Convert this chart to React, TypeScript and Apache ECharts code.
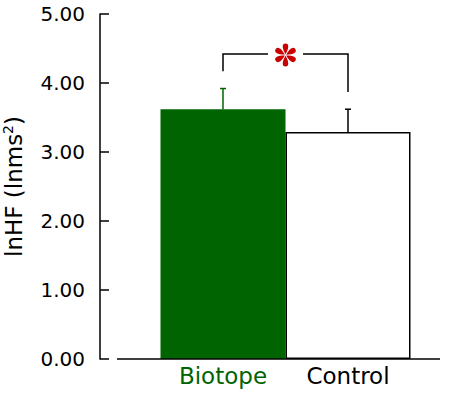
import React, { useEffect, useRef } from "react";
import * as echarts from "echarts";

const categories = ["Biotope", "Control"];
const means = [3.62, 3.29];
const upperErrors = [3.92, 3.62];
const yTicks = [0, 1, 2, 3, 4, 5];
const bracketLeft = [0, 4.17];
const bracketTop = 4.42;
const bracketRight = [1, 3.87];
const barColors = ["#006400", "#ffffff"];
const labelColors = ["#006400", "#000000"];
const errColors = ["#006400", "#000000"];

const FONT = "'DejaVu Sans', sans-serif";

function asteriskPath(cx: number, cy: number, s: number): string {
  let d = "";
  for (let k = 0; k < 6; k++) {
    const th = (k * Math.PI) / 3;
    const ux = Math.sin(th), uy = -Math.cos(th);
    const vx = Math.cos(th), vy = Math.sin(th);
    const p = (a: number, b: number) =>
      `${(cx + s * (a * ux + b * vx)).toFixed(2)} ${(cy + s * (a * uy + b * vy)).toFixed(2)}`;
    d += `M${p(0.8, 0)} C${p(4, 1.8)} ${p(7, 3.1)} ${p(9, 2.8)} A${(2.8 * s).toFixed(2)} ${(2.8 * s).toFixed(2)} 0 0 0 ${p(9, -2.8)} C${p(7, -3.1)} ${p(4, -1.8)} ${p(0.8, 0)} Z `;
  }
  return d;
}

export default function App() {
  const ref = useRef<HTMLDivElement>(null);
  useEffect(() => {
    if (!ref.current) return;
    const chart = echarts.init(ref.current, null, { renderer: "svg" });
    const option: any = {
      animation: false,
      backgroundColor: "#ffffff",
      grid: { left: 160.5, width: 250, top: 14, height: 345, containLabel: false, outerBoundsMode: "none" },
      xAxis: {
        type: "category",
        data: categories,
        axisLine: { show: false },
        axisTick: { show: false },
        axisLabel: {
          interval: 0,
          margin: 5,
          fontSize: 23,
          fontFamily: FONT,
          formatter: (v: string) => `{c${categories.indexOf(v)}|${v}}`,
          rich: {
            c0: { color: labelColors[0], fontSize: 23, fontFamily: FONT },
            c1: { color: labelColors[1], fontSize: 23, fontFamily: FONT },
          },
        },
      },
      yAxis: {
        type: "value",
        min: yTicks[0],
        max: yTicks[yTicks.length - 1],
        interval: 1,
        offset: 60.5,
        splitLine: { show: false },
        axisLine: { show: true, lineStyle: { color: "#000", width: 1.5 } },
        axisTick: { show: true, inside: true, length: 9, lineStyle: { color: "#000", width: 1.5 } },
        axisLabel: {
          margin: 15,
          fontSize: 20,
          color: "#000",
          fontFamily: FONT,
          formatter: (v: number) => v.toFixed(2),
        },
        name: "{a|lnHF (lnms}{s|2}{a|)}",
        nameLocation: "middle",
        nameGap: 73,
        nameTextStyle: {
          rich: {
            a: { fontSize: 23, color: "#000", fontFamily: FONT },
            s: { fontSize: 14, color: "#000", fontFamily: FONT, verticalAlign: "top", padding: [0, 0, 12, 0] },
          },
        },
      },
      graphic: [
        {
          type: "line",
          shape: { x1: 117, y1: 359, x2: 440, y2: 359 },
          style: { stroke: "#000", lineWidth: 1.5 },
          z: 10,
        },
      ],
      series: [
        {
          type: "bar",
          barCategoryGap: "0%",
          data: means.map((v, i) => ({
            value: v,
            itemStyle: {
              color: barColors[i],
              borderColor: i === 0 ? "#006400" : "#000",
              borderWidth: 1.5,
            },
          })),
        },
        {
          type: "custom",
          data: means.map((m, i) => [i, m, upperErrors[i]]),
          renderItem: (params: any, api: any) => {
            const i = api.value(0);
            const p0 = api.coord([i, api.value(1)]);
            const p1 = api.coord([i, api.value(2)]);
            const c = errColors[params.dataIndex];
            return {
              type: "group",
              children: [
                { type: "line", shape: { x1: p0[0], y1: p0[1], x2: p1[0], y2: p1[1] }, style: { stroke: c, lineWidth: 1.5 } },
                { type: "line", shape: { x1: p1[0] - 3, y1: p1[1], x2: p1[0] + 3, y2: p1[1] }, style: { stroke: c, lineWidth: 1.5 } },
              ],
            };
          },
          z: 5,
        },
        {
          type: "custom",
          data: [[bracketLeft[0], bracketLeft[1], bracketRight[0], bracketRight[1], bracketTop]],
          renderItem: (params: any, api: any) => {
            const a = api.coord([api.value(0), api.value(1)]);
            const b = api.coord([api.value(2), api.value(3)]);
            const t = api.coord([api.value(0), api.value(4)]);
            const mid = (a[0] + b[0]) / 2;
            const gap = 17.5;
            return {
              type: "group",
              children: [
                { type: "polyline", shape: { points: [[a[0], a[1]], [a[0], t[1]], [mid - gap, t[1]]] }, style: { stroke: "#000", lineWidth: 1.5, fill: "none" } },
                { type: "polyline", shape: { points: [[mid + gap, t[1]], [b[0], t[1]], [b[0], b[1]]] }, style: { stroke: "#000", lineWidth: 1.5, fill: "none" } },
                { type: "path", shape: { pathData: asteriskPath(mid, t[1] + 1, 0.97) }, style: { fill: "#c80000", stroke: "none" } },
              ],
            };
          },
          z: 6,
        },
      ],
    };
    chart.setOption(option);
    return () => chart.dispose();
  }, []);
  return <div ref={ref} style={{ position: "absolute", left: 0, top: 0, width: 457, height: 395 }} />;
}
